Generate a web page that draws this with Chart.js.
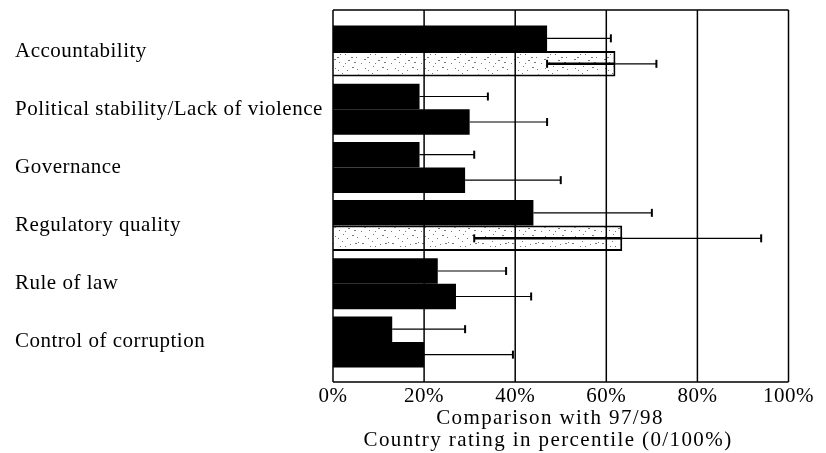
<!DOCTYPE html>
<html>
<head>
<meta charset="utf-8">
<script src="https://cdn.jsdelivr.net/npm/chart.js@4.4.1/dist/chart.umd.min.js"></script>
<style>
  body { margin: 0; background: #fff; }
  #wrap { width: 826px; height: 453px; }
</style>
</head>
<body>
<div id="wrap"><canvas id="myChart"></canvas></div>
<script>
const categories = ['Accountability', 'Political stability/Lack of violence', 'Governance', 'Regulatory quality', 'Rule of law', 'Control of corruption'];
// upper bar of each pair
const rating = [47, 19, 19, 44, 23, 13];
const ratingHigh = [61, 34, 31, 70, 38, 29];
// lower bar of each pair
const comparison = [62, 30, 29, 63.5, 27, 20];
const comparisonLow = [47, null, null, 31, null, null];
const comparisonHigh = [71, 47, 50, 94, 43.5, 39.5];
const dotted = [true, false, false, true, false, false];
const xTicks = [0, 20, 40, 60, 80, 100];
const axisTitle = ['Comparison with 97/98', 'Country rating in percentile (0/100%)'];

const FONT = 'Liberation Serif, Times New Roman, serif';

// speckled fill used for the light bars
function speckle() {
  const c = document.createElement('canvas');
  c.width = 30; c.height = 24;
  const g = c.getContext('2d');
  g.fillStyle = '#fff';
  g.fillRect(0, 0, 30, 24);
  g.fillStyle = '#777';
  [[2,3],[9,14],[15,6],[22,19],[28,2],[5,20],[18,12],[26,9],[12,1],[7,9],[20,4],[1,15],
   [24,14],[13,18],[17,22],[4,11],[27,21],[10,6],[21,9],[15,15],[8,22],[25,3]]
    .forEach(([x, y], k) => g.fillRect(x, y, k % 3 ? 1 : 2, 1));
  return g.createPattern(c, 'repeat');
}
const pat = speckle();

// slightly wider letter spacing, closer to the scanned typeface
const spacing = {
  id: 'spacing',
  beforeDraw(chart) { chart.ctx.letterSpacing = '0.5px'; },
  afterDraw(chart) { chart.ctx.letterSpacing = '0px'; }
};

// frame + vertical gridlines (drawn over the bars, a bit taller than the bar area)
const frame = {
  id: 'frame',
  afterDatasetsDraw(chart) {
    const { ctx, chartArea: a, scales: { x } } = chart;
    const top = a.top - 12, bottom = a.bottom + 11;
    ctx.save();
    ctx.strokeStyle = '#000';
    ctx.lineWidth = 1.5;
    xTicks.forEach(t => {
      const px = x.getPixelForValue(t);
      ctx.beginPath(); ctx.moveTo(px, top); ctx.lineTo(px, bottom); ctx.stroke();
    });
    ctx.beginPath();
    ctx.moveTo(x.getPixelForValue(0), top); ctx.lineTo(x.getPixelForValue(100), top);
    ctx.moveTo(x.getPixelForValue(0), bottom); ctx.lineTo(x.getPixelForValue(100), bottom);
    ctx.stroke();
    ctx.restore();
  }
};

const errorBars = {
  id: 'errorBars',
  afterDatasetsDraw(chart) {
    const { ctx, scales: { x } } = chart;
    const lows = [null, comparisonLow], highs = [ratingHigh, comparisonHigh];
    ctx.save();
    ctx.strokeStyle = '#000';
    chart.data.datasets.forEach((ds, i) => {
      chart.getDatasetMeta(i).data.forEach((bar, j) => {
        const v = ds.data[j];
        const lo = lows[i] && lows[i][j] != null ? lows[i][j] : v;
        const y = bar.y;
        const xv = x.getPixelForValue(v), xl = x.getPixelForValue(lo), xh = x.getPixelForValue(highs[i][j]);
        if (lo !== v) {
          ctx.lineWidth = 2.5;
          ctx.beginPath(); ctx.moveTo(xl, y); ctx.lineTo(xv, y); ctx.stroke();
          ctx.lineWidth = 2;
          ctx.beginPath(); ctx.moveTo(xl, y - 4); ctx.lineTo(xl, y + 4); ctx.stroke();
        }
        ctx.lineWidth = 1.2;
        ctx.beginPath(); ctx.moveTo(xv, y); ctx.lineTo(xh, y); ctx.stroke();
        ctx.lineWidth = 2;
        ctx.beginPath(); ctx.moveTo(xh, y - 4); ctx.lineTo(xh, y + 4); ctx.stroke();
      });
    });
    ctx.restore();
  }
};

// two-line axis caption under the ticks
const caption = {
  id: 'caption',
  afterDraw(chart) {
    const ctx = chart.ctx;
    ctx.save();
    ctx.letterSpacing = '1.4px';
    ctx.fillStyle = '#000';
    ctx.font = '21px ' + FONT;
    ctx.textAlign = 'center';
    ctx.textBaseline = 'middle';
    ctx.fillText(axisTitle[0], 550, 418);
    ctx.fillText(axisTitle[1], 548, 440);
    ctx.restore();
  }
};

new Chart(document.getElementById('myChart'), {
  type: 'bar',
  data: {
    labels: categories,
    datasets: [
      { data: rating, backgroundColor: '#000', borderWidth: 0 },
      {
        data: comparison,
        backgroundColor: dotted.map(d => d ? pat : '#000'),
        borderColor: '#000',
        borderWidth: dotted.map(d => d ? 2 : 0)
      }
    ]
  },
  options: {
    indexAxis: 'y',
    responsive: true,
    maintainAspectRatio: false,
    animation: false,
    layout: { padding: { left: 15, top: 22, right: 34, bottom: 0 } },
    datasets: { bar: { categoryPercentage: 0.876, barPercentage: 1.0 } },
    plugins: { legend: { display: false }, tooltip: { enabled: false } },
    scales: {
      x: {
        min: 0, max: 100,
        afterBuildTicks: s => { s.ticks = xTicks.map(v => ({ value: v })); },
        afterFit: s => { s.height = 82; },
        grid: { display: false, drawTicks: false },
        border: { display: false },
        ticks: {
          color: '#000', padding: 13, maxRotation: 0,
          font: { family: FONT, size: 21 },
          callback: v => v + '%'
        },
        title: { display: false }
      },
      y: {
        afterFit: s => { s.width = 318; },
        grid: { display: false, drawTicks: false },
        border: { display: false },
        ticks: {
          color: '#000', crossAlign: 'far', padding: 0,
          font: { family: FONT, size: 21 }
        }
      }
    }
  },
  plugins: [spacing, frame, errorBars, caption]
});
</script>
</body>
</html>
